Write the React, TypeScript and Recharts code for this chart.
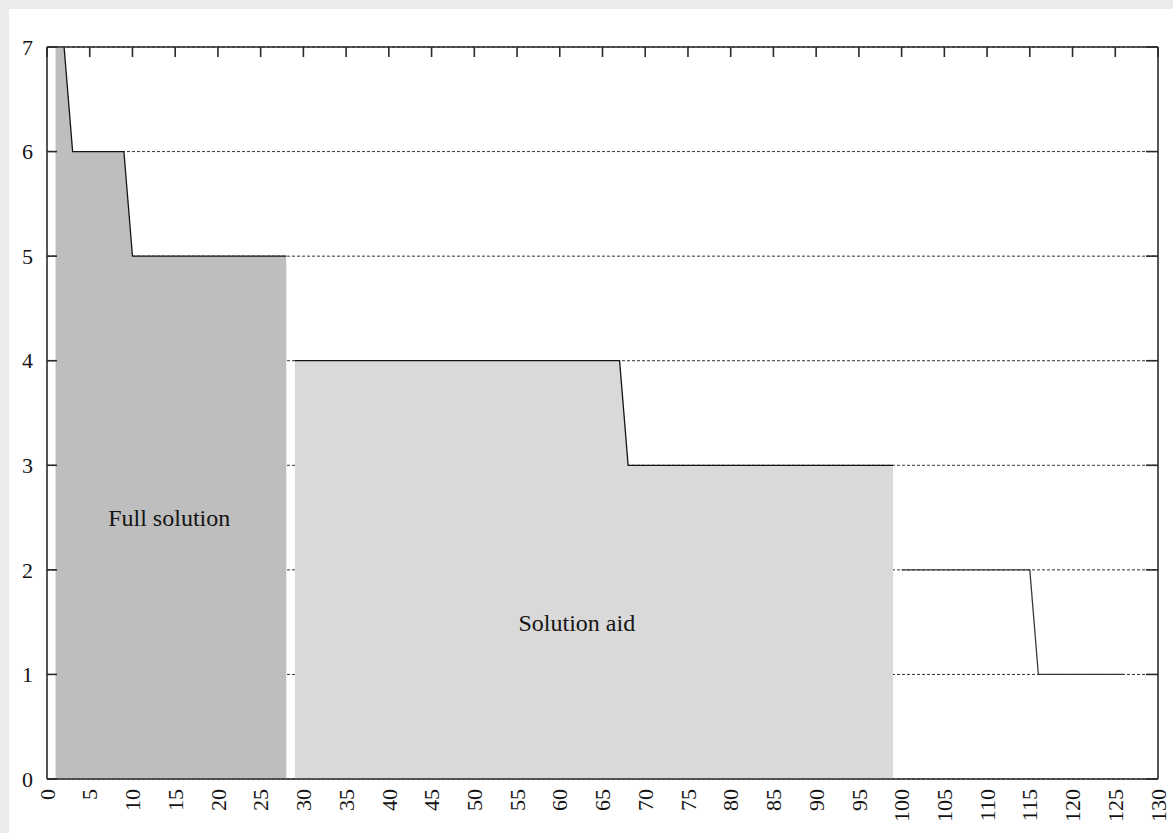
import React from 'react';
import { ComposedChart, Area, Line, XAxis, YAxis, CartesianGrid, ReferenceDot } from 'recharts';

// step profile, split into three runs
const fullX = [1, 3, 9, 10, 28];
const fullY = [8, 6, 6, 5, 5];
const aidX = [29, 67, 68, 99];
const aidY = [4, 4, 3, 3];
const restX = [100, 115, 116, 126];
const restY = [2, 2, 1, 1];

const xTicks = [0, 5, 10, 15, 20, 25, 30, 35, 40, 45, 50, 55, 60, 65, 70, 75, 80, 85, 90, 95, 100, 105, 110, 115, 120, 125, 130];
const yTicks = [0, 1, 2, 3, 4, 5, 6, 7];

const regionNames = ['Full solution', 'Solution aid'];
const regionX = [14.3, 62];
const regionY = [2.5, 1.5];

const SERIF = '"Liberation Serif", "Times New Roman", serif';
const INK = '#141414';
const FRAME = '#2a2a2a';

type Row = { x: number; full: number | null; aid: number | null; rest: number | null };

const rows: Row[] = [
  ...fullX.map((x, i) => ({ x, full: fullY[i], aid: null, rest: null })),
  ...aidX.map((x, i) => ({ x, full: null, aid: aidY[i], rest: null })),
  ...restX.map((x, i) => ({ x, full: null, aid: null, rest: restY[i] })),
];

const BottomTick = (props: any) => {
  const { x, y, payload } = props;
  return (
    <text
      x={x}
      y={y + 10}
      dy="0.35em"
      transform={`rotate(-90, ${x}, ${y + 10})`}
      textAnchor="end"
      fontFamily={SERIF}
      fontSize={22}
      fill={INK}
    >
      {payload.value}
    </text>
  );
};

const TopTick = (props: any) => {
  const { x, y } = props;
  return <line x1={x} y1={y} x2={x} y2={y + 10} stroke={FRAME} strokeWidth={1.6} />;
};

const LeftTick = (props: any) => {
  const { x, y, payload } = props;
  return (
    <g>
      <line x1={x} y1={y} x2={x + 10} y2={y} stroke={FRAME} strokeWidth={1.6} />
      <text x={x - 14} y={y} dy="0.35em" textAnchor="end" fontFamily={SERIF} fontSize={22} fill={INK}>
        {payload.value}
      </text>
    </g>
  );
};

const RightTick = (props: any) => {
  const { x, y } = props;
  return <line x1={x} y1={y} x2={x - 12} y2={y} stroke={FRAME} strokeWidth={1.6} />;
};

export default function App() {
  return (
    <div style={{ position: 'fixed', inset: 0, background: '#ebebeb' }}>
      <div style={{ position: 'absolute', left: 9, top: 9, width: 1164, height: 824, background: '#fff' }}>
        <ComposedChart width={1164} height={824} data={rows} margin={{ top: 0, right: 0, bottom: 0, left: 0 }}>
          <CartesianGrid vertical={false} stroke="#333" strokeDasharray="3 2" />
          <XAxis
            dataKey="x"
            type="number"
            domain={[0, 130]}
            ticks={xTicks}
            interval={0}
            height={54}
            tickSize={0}
            tickMargin={0}
            tickLine={false}
            tick={<BottomTick />}
            axisLine={{ stroke: FRAME, strokeWidth: 1.6 }}
            allowDataOverflow
          />
          <XAxis
            xAxisId="top"
            dataKey="x"
            orientation="top"
            type="number"
            domain={[0, 130]}
            ticks={xTicks}
            interval={0}
            minTickGap={0}
            height={38}
            tickSize={0}
            tickMargin={0}
            tickLine={false}
            tick={<TopTick />}
            axisLine={{ stroke: FRAME, strokeWidth: 1.6 }}
            allowDataOverflow
          />
          <YAxis
            type="number"
            domain={[0, 7]}
            ticks={yTicks}
            interval={0}
            width={38}
            tickSize={0}
            tickMargin={0}
            tickLine={false}
            tick={<LeftTick />}
            axisLine={{ stroke: FRAME, strokeWidth: 1.6 }}
            allowDataOverflow
          />
          <YAxis
            yAxisId="right"
            orientation="right"
            type="number"
            domain={[0, 7]}
            ticks={yTicks}
            interval={0}
            minTickGap={0}
            width={15}
            tickSize={0}
            tickMargin={0}
            tickLine={false}
            tick={<RightTick />}
            axisLine={{ stroke: FRAME, strokeWidth: 1.6 }}
            allowDataOverflow
          />
          <Area
            dataKey="full"
            type="linear"
            fill="#bebebe"
            fillOpacity={1}
            stroke={INK}
            strokeWidth={1.3}
            dot={false}
            activeDot={false}
            isAnimationActive={false}
          />
          <Area
            dataKey="aid"
            type="linear"
            fill="#d9d9d9"
            fillOpacity={1}
            stroke={INK}
            strokeWidth={1.3}
            dot={false}
            activeDot={false}
            isAnimationActive={false}
          />
          <Line
            dataKey="rest"
            type="linear"
            stroke="#3a3a3a"
            strokeWidth={1.3}
            dot={false}
            activeDot={false}
            isAnimationActive={false}
          />
          {regionNames.map((name, i) => (
            <ReferenceDot
              key={name}
              x={regionX[i]}
              y={regionY[i]}
              r={0}
              stroke="none"
              fill="none"
              label={{ value: name, position: 'center', fill: INK, fontSize: 24, fontFamily: SERIF }}
            />
          ))}
        </ComposedChart>
      </div>
    </div>
  );
}
